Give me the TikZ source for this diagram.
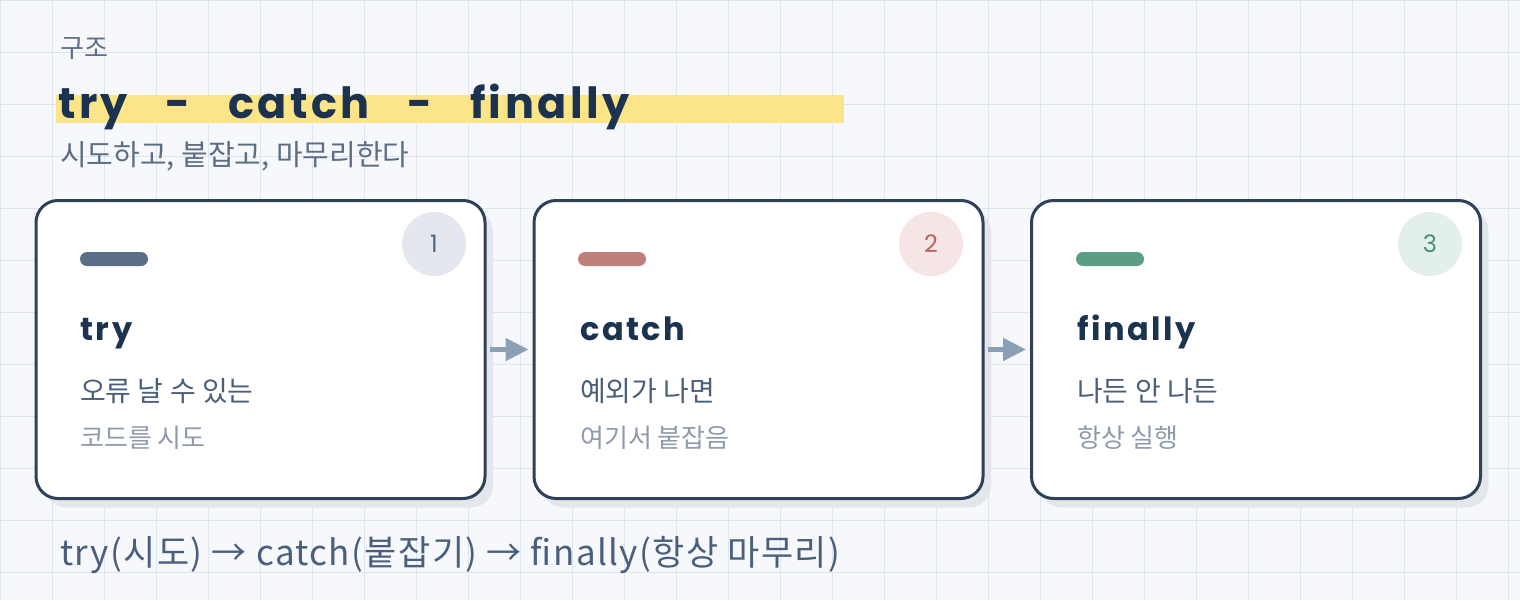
\documentclass[tikz,border=0pt]{standalone}
\usepackage{fontspec}
\setmainfont{Noto Sans CJK KR}
\newfontfamily\krfont{Noto Sans CJK KR}
\newfontfamily\krwide{Noto Sans CJK KR}[LetterSpace=4]
\newfontfamily\handfont{Poppins}[LetterSpace=8]
\newfontfamily\titlefont{Poppins}[LetterSpace=8,WordSpace=3]
\usetikzlibrary{shadows,arrows.meta}
\definecolor{bgc}{HTML}{F6F8FB}
\definecolor{gridc}{HTML}{DDE6F0}
\definecolor{inkc}{HTML}{1C3350}
\definecolor{borderc}{HTML}{2F4158}
\definecolor{shadowc}{HTML}{E3E7EC}
\definecolor{hlc}{HTML}{FCE588}
\definecolor{mutedc}{HTML}{5D6E84}
\definecolor{lineonec}{HTML}{4B5F78}
\definecolor{linetwoc}{HTML}{8F9BAB}
\definecolor{arrowc}{HTML}{8BA0B4}
\definecolor{barone}{HTML}{5A6E87}
\definecolor{bartwo}{HTML}{C0807A}
\definecolor{barthree}{HTML}{5C9E84}
\definecolor{circone}{HTML}{E4E8EE}
\definecolor{circtwo}{HTML}{F5E6E5}
\definecolor{circthree}{HTML}{E3EFEA}
\definecolor{numone}{HTML}{4E6480}
\definecolor{numtwo}{HTML}{B5655C}
\definecolor{numthree}{HTML}{4F8D70}
\definecolor{bottomc}{HTML}{4A5F7C}
\begin{document}
\begin{tikzpicture}[x=1pt,y=-1pt,
  gridline/.style={draw=gridc,line width=1pt},
  card/.style={draw=borderc,line width=3pt,fill=white,rounded corners=22pt,
    minimum width=449pt,minimum height=298pt,inner sep=0pt,
    drop shadow={shadow xshift=8pt,shadow yshift=-9pt,fill=shadowc,opacity=1}},
  bar/.style={rounded corners=7pt,minimum width=68pt,minimum height=14pt,inner sep=0pt},
  badge/.style={circle,minimum size=64pt,inner sep=0pt,font=\handfont\fontsize{24}{28}\selectfont},
  cardtitle/.style={anchor=base west,inner sep=0pt,text=inkc,font=\handfont\bfseries\fontsize{32}{38}\selectfont},
  lineone/.style={anchor=base west,inner sep=0pt,text=lineonec,font=\krfont\fontsize{28}{32}\selectfont},
  linetwo/.style={anchor=base west,inner sep=0pt,text=linetwoc,font=\krfont\fontsize{26}{30}\selectfont},
  flow/.style={draw=arrowc,line width=5pt,-{Triangle[length=23pt,width=22pt]},shorten <=3pt,shorten >=4pt}
]
\useasboundingbox (0,0) rectangle (1520,600);
\fill[bgc] (0,0) rectangle (1520,600);
\foreach \i in {0,52,...,1520} \draw[gridline] (\i,0) -- (\i,600);
\foreach \j in {0,52,...,600} \draw[gridline] (0,\j) -- (1520,\j);

% header
\node[anchor=base west,inner sep=0pt,text=mutedc,font=\krfont\fontsize{26}{30}\selectfont] (kicker) at (60,57) {구조};
\fill[hlc] (56,95) rectangle (844,123);
\node[anchor=base west,inner sep=0pt,text=inkc,font=\titlefont\bfseries\fontsize{43}{50}\selectfont] (title) at (58,118) {try - catch - finally};
\node[anchor=base west,inner sep=0pt,text=mutedc,font=\krfont\fontsize{29}{33}\selectfont] (subtitle) at (60,165) {시도하고, 붙잡고, 마무리한다};

% cards
\node[card] (c1) at (260.5,349.5) {};
\node[card] (c2) at (758.5,349.5) {};
\node[card] (c3) at (1256,349.5) {};

\node[bar,fill=barone] (b1) at (114,259) {};
\node[bar,fill=bartwo] (b2) at (612,259) {};
\node[bar,fill=barthree] (b3) at (1110,259) {};

\node[badge,fill=circone,text=numone] (n1) at (434,244) {1};
\node[badge,fill=circtwo,text=numtwo] (n2) at (931,244) {2};
\node[badge,fill=circthree,text=numthree] (n3) at (1430,244) {3};

\node[cardtitle] (t1) at (80,340) {try};
\node[cardtitle] (t2) at (580,340) {catch};
\node[cardtitle] (t3) at (1077,340) {finally};

\node[lineone] (a1) at (80,401) {오류 날 수 있는};
\node[lineone] (a2) at (580,401) {예외가 나면};
\node[lineone] (a3) at (1077,401) {나든 안 나든};

\node[linetwo] (d1) at (80,447) {코드를 시도};
\node[linetwo] (d2) at (580,447) {여기서 붙잡음};
\node[linetwo] (d3) at (1077,447) {항상 실행};

\draw[flow] (c1.east) -- (c2.west);
\draw[flow] (c2.east) -- (c3.west);

\node[anchor=base west,inner sep=0pt,text=bottomc,font=\krwide\fontsize{35}{40}\selectfont] (summary) at (60,565) {try(시도) → catch(붙잡기) → finally(항상 마무리)};
\end{tikzpicture}
\end{document}
